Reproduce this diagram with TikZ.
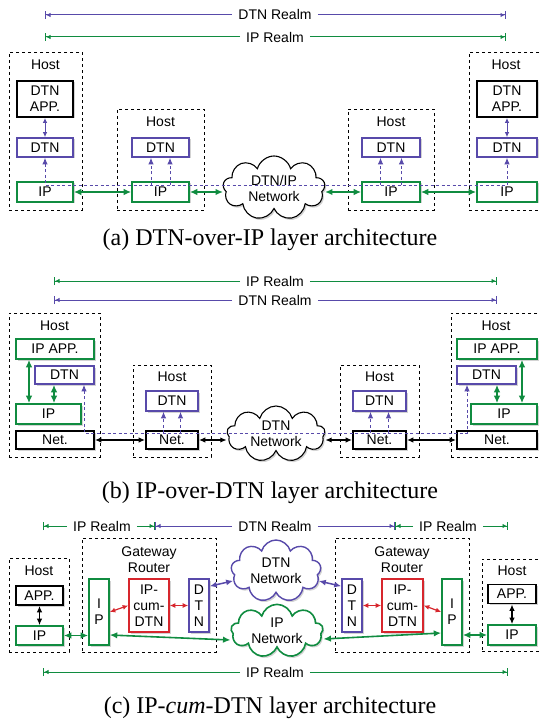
\documentclass[tikz,border=0pt]{standalone}
\usepackage{fontspec}
\setmainfont{Liberation Serif}
\setsansfont{Liberation Sans}
\usepackage{xcolor}
\usepackage{tikz}
\usetikzlibrary{arrows.meta, shapes.symbols, shadows}

\definecolor{dtnpurple}{RGB}{88,74,170}
\definecolor{ipgreen}{RGB}{16,140,64}
\definecolor{cumred}{RGB}{215,38,45}

\begin{document}
\begin{tikzpicture}[x=1pt, y=-1pt,
    every node/.style = {font=\sffamily\fontsize{14}{16}\selectfont},
    hostbox/.style = {draw, dashed, line width=0.7pt, inner sep=0pt},
    layer/.style = {draw, line width=1.6pt, fill=white, inner sep=0pt, align=center,
      drop shadow={shadow xshift=1.5pt, shadow yshift=-1.5pt, opacity=0.35}},
    dtnbox/.style = {layer, draw=dtnpurple},
    ipbox/.style = {layer, draw=ipgreen},
    appbox/.style = {layer, draw=black, line width=1.8pt},
    cumbox/.style = {layer, draw=cumred},
    netcloud/.style = {cloud, cloud puffs=9, cloud ignores aspect, draw, fill=white,
      line width=1.1pt, inner sep=0pt, align=center,
      drop shadow={shadow xshift=1.5pt, shadow yshift=-1.8pt, opacity=0.35}},
    realmtext/.style = {inner xsep=6pt, inner ysep=0pt},
    dtnrealm/.style = {draw=dtnpurple, line width=1pt,
      -{Latex[length=4.5pt,width=4.5pt]Bar[width=8pt]}},
    iprealm/.style = {dtnrealm, draw=ipgreen},
    iplink/.style = {draw=ipgreen, line width=1.6pt,
      {Latex[length=7.5pt,width=6.5pt]}-{Latex[length=7.5pt,width=6.5pt]}},
    netlink/.style = {draw=black, line width=1.3pt,
      {Latex[length=6.5pt,width=5.5pt]}-{Latex[length=6.5pt,width=5.5pt]}},
    dtnlink/.style = {draw=dtnpurple, line width=1pt,
      {Latex[length=5pt,width=4.5pt]}-{Latex[length=5pt,width=4.5pt]}},
    dtnnet/.style = {dtnlink, line width=1.5pt,
      {Latex[length=7pt,width=6pt]}-{Latex[length=7pt,width=6pt]}},
    cumlink/.style = {draw=cumred, line width=1.2pt,
      {Latex[length=5.5pt,width=5pt]}-{Latex[length=5.5pt,width=5pt]}},
    dtnpath/.style = {draw=dtnpurple, line width=1pt, dash pattern=on 3pt off 2.5pt},
    dtnup/.style = {dtnpath, -{Latex[length=6.5pt,width=5.5pt]}},
    dtnboth/.style = {dtnpath, {Latex[length=6.5pt,width=5.5pt]}-{Latex[length=6.5pt,width=5.5pt]}},
    caption/.style = {font=\rmfamily\fontsize{24}{26}\selectfont}]

\useasboundingbox (0,0) rectangle (539,719);

% (a) DTN over IP
\node[realmtext] (dtnrA) at (275,15) {DTN Realm};
\coordinate (dtnrA1) at (45,15);
\coordinate (dtnrA2) at (506,15);
\draw[dtnrealm] (dtnrA.west) -- (dtnrA1);
\draw[dtnrealm] (dtnrA.east) -- (dtnrA2);
\node[realmtext] (iprA) at (275,37) {IP Realm};
\coordinate (iprA1) at (45,37);
\coordinate (iprA2) at (506,37);
\draw[iprealm] (iprA.west) -- (iprA1);
\draw[iprealm] (iprA.east) -- (iprA2);

\node[hostbox, minimum width=73, minimum height=158] (hostA1) at (45.5,131) {};
\node (hA1) at (45.5,65) {Host};
\node[appbox, minimum width=56, minimum height=36] (appA1) at (45,99) {DTN\\APP.};
\node[dtnbox, minimum width=56, minimum height=19] (dtnA1) at (45,147.5) {DTN};
\node[ipbox, minimum width=56, minimum height=20] (ipA1) at (45,192) {IP};

\node[hostbox, minimum width=87, minimum height=101] (hostA2) at (160.5,159.5) {};
\node (hA2) at (160.5,122) {Host};
\node[dtnbox, minimum width=57, minimum height=19] (dtnA2) at (160.5,147.5) {DTN};
\node[ipbox, minimum width=57, minimum height=20] (ipA2) at (160.5,192) {IP};

\node[netcloud, minimum width=102, minimum height=64] (cloudA) at (274,188) {DTN/IP\\Network};

\node[hostbox, minimum width=86, minimum height=101] (hostA3) at (391,159.5) {};
\node (hA3) at (391,122) {Host};
\node[dtnbox, minimum width=58, minimum height=19] (dtnA3) at (391,147.5) {DTN};
\node[ipbox, minimum width=58, minimum height=20] (ipA3) at (391,192) {IP};

\node[hostbox, minimum width=73, minimum height=158] (hostA4) at (505.5,131) {};
\node (hA4) at (506,65) {Host};
\node[appbox, minimum width=60, minimum height=36] (appA4) at (507,99) {DTN\\APP.};
\node[dtnbox, minimum width=60, minimum height=19] (dtnA4) at (507,147.5) {DTN};
\node[ipbox, minimum width=60, minimum height=20] (ipA4) at (507,192) {IP};

\draw[dtnlink] (appA1) -- (dtnA1);
\draw[dtnlink] (appA4) -- (dtnA4);
\draw[iplink] (ipA1) -- (ipA2);
\draw[iplink] (ipA2.east) -- (ipA2.east -| cloudA.west);
\draw[iplink] (ipA3.west -| cloudA.east) -- (ipA3.west);
\draw[iplink] (ipA3) -- (ipA4);
\draw[dtnboth] (dtnA1.south) |- ([yshift=-4pt]ipA2.north) -| (dtnA4.south);
\draw[dtnup] ([xshift=-9.5pt,yshift=-4pt]ipA2.north) -- ([xshift=-9.5pt]dtnA2.south);
\draw[dtnup] ([xshift=9.5pt,yshift=-4pt]ipA2.north) -- ([xshift=9.5pt]dtnA2.south);
\draw[dtnup] ([xshift=-10.5pt,yshift=-4pt]ipA3.north) -- ([xshift=-10.5pt]dtnA3.south);
\draw[dtnup] ([xshift=10.5pt,yshift=-4pt]ipA3.north) -- ([xshift=10.5pt]dtnA3.south);

\node[caption] (capA) at (270,240) {(a) DTN-over-IP layer architecture};

% (b) IP over DTN
\node[realmtext] (iprB) at (275,281) {IP Realm};
\coordinate (iprB1) at (54,281);
\coordinate (iprB2) at (497,281);
\draw[iprealm] (iprB.west) -- (iprB1);
\draw[iprealm] (iprB.east) -- (iprB2);
\node[realmtext] (dtnrB) at (275,300) {DTN Realm};
\coordinate (dtnrB1) at (54,300);
\coordinate (dtnrB2) at (497,300);
\draw[dtnrealm] (dtnrB.west) -- (dtnrB1);
\draw[dtnrealm] (dtnrB.east) -- (dtnrB2);

\node[hostbox, minimum width=91, minimum height=144] (hostB1) at (54.5,385) {};
\node (hB1) at (54.5,326) {Host};
\node[ipbox, minimum width=78, minimum height=20] (ipappB1) at (55,349) {IP APP.};
\node[dtnbox, minimum width=59, minimum height=18] (dtnB1) at (64.5,375) {DTN};
\node[ipbox, minimum width=65, minimum height=20] (ipB1) at (48.5,414) {IP};
\node[appbox, minimum width=78, minimum height=18] (netB1) at (55,440) {Net.};

\node[hostbox, minimum width=78, minimum height=92] (hostB2) at (172,411) {};
\node (hB2) at (172,377) {Host};
\node[dtnbox, minimum width=52, minimum height=20] (dtnB2) at (172,401) {DTN};
\node[appbox, minimum width=52, minimum height=18] (netB2) at (172,440) {Net.};

\node[netcloud, minimum width=98, minimum height=56] (cloudB) at (276,434) {DTN\\Network};

\node[hostbox, minimum width=79, minimum height=92] (hostB3) at (379.5,411) {};
\node (hB3) at (379.5,377) {Host};
\node[dtnbox, minimum width=53, minimum height=20] (dtnB3) at (379.5,401) {DTN};
\node[appbox, minimum width=53, minimum height=18] (netB3) at (379.5,440) {Net.};

\node[hostbox, minimum width=91, minimum height=144] (hostB4) at (496.5,385) {};
\node (hB4) at (496,326) {Host};
\node[ipbox, minimum width=80, minimum height=20] (ipappB4) at (497,349) {IP APP.};
\node[dtnbox, minimum width=59, minimum height=18] (dtnB4) at (486.5,375) {DTN};
\node[ipbox, minimum width=66, minimum height=20] (ipB4) at (504,414) {IP};
\node[appbox, minimum width=80, minimum height=18] (netB4) at (497,440) {Net.};

\draw[iplink] ([xshift=-26pt]ipappB1.south) -- ([xshift=-26pt]ipappB1.south |- ipB1.north);
\draw[iplink] ([xshift=-10.5pt]dtnB1.south) -- ([xshift=-10.5pt]dtnB1.south |- ipB1.north);
\draw[iplink] ([xshift=10.5pt]dtnB4.south) -- ([xshift=10.5pt]dtnB4.south |- ipB4.north);
\draw[iplink] ([xshift=25pt]ipappB4.south) -- ([xshift=25pt]ipappB4.south |- ipB4.north);
\draw[netlink] (netB1) -- (netB2);
\draw[netlink] (netB2.east) -- (netB2.east -| cloudB.west);
\draw[netlink] (netB3.west -| cloudB.east) -- (netB3.west);
\draw[netlink] (netB3) -- (netB4);
\draw[dtnboth] ([xshift=19.5pt]dtnB1.south) |- ([yshift=-3pt]netB2.north) -| ([xshift=-19.5pt]dtnB4.south);
\draw[dtnup] ([xshift=-8.5pt,yshift=-3pt]netB2.north) -- ([xshift=-8.5pt]dtnB2.south);
\draw[dtnup] ([xshift=8.5pt,yshift=-3pt]netB2.north) -- ([xshift=8.5pt]dtnB2.south);
\draw[dtnup] ([xshift=-9pt,yshift=-3pt]netB3.north) -- ([xshift=-9pt]dtnB3.south);
\draw[dtnup] ([xshift=9pt,yshift=-3pt]netB3.north) -- ([xshift=9pt]dtnB3.south);

\node[caption] (capB) at (270,493) {(b) IP-over-DTN layer architecture};

% (c) IP-cum-DTN
\node[realmtext] (iprC1) at (102,526) {IP Realm};
\coordinate (iprC1a) at (43,526);
\coordinate (iprC1b) at (155,526);
\draw[iprealm] (iprC1.west) -- (iprC1a);
\draw[iprealm] (iprC1.east) -- (iprC1b);
\node[realmtext] (dtnrC) at (275,526) {DTN Realm};
\coordinate (dtnrCa) at (155,526);
\coordinate (dtnrCb) at (395,526);
\draw[dtnrealm] (dtnrC.west) -- (dtnrCa);
\draw[dtnrealm] (dtnrC.east) -- (dtnrCb);
\node[realmtext] (iprC2) at (448,526) {IP Realm};
\coordinate (iprC2a) at (395,526);
\coordinate (iprC2b) at (508,526);
\draw[iprealm] (iprC2.west) -- (iprC2a);
\draw[iprealm] (iprC2.east) -- (iprC2b);
\node[realmtext] (iprC3) at (275,672) {IP Realm};
\coordinate (iprC3a) at (43,672);
\coordinate (iprC3b) at (508,672);
\draw[iprealm] (iprC3.west) -- (iprC3a);
\draw[iprealm] (iprC3.east) -- (iprC3b);

\node[hostbox, minimum width=60, minimum height=94] (hostC1) at (39,605) {};
\node (hC1) at (39,571) {Host};
\node[appbox, minimum width=47, minimum height=19] (appC1) at (39.5,595.5) {APP.};
\node[ipbox, minimum width=47, minimum height=19] (ipC1) at (39.5,635.5) {IP};

\node[hostbox, minimum width=134, minimum height=114] (gwC1) at (149,595) {};
\node[align=center] (gC1) at (149,559.5) {Gateway\\Router};
\node[ipbox, minimum width=20, minimum height=66] (ipC2) at (99,612) {I\\P};
\node[cumbox, minimum width=40, minimum height=53] (cumC1) at (149,605.5) {IP-\\cum-\\DTN};
\node[dtnbox, minimum width=20, minimum height=53] (dtnC1) at (199,605.5) {D\\T\\N};

\node[netcloud, draw=dtnpurple, line width=1.4pt, minimum width=90, minimum height=62] (cloudC1) at (276,571) {DTN\\Network};
\node[netcloud, draw=ipgreen, line width=1.6pt, minimum width=92, minimum height=50] (cloudC2) at (277,631) {IP\\Network};

\node[hostbox, minimum width=134, minimum height=114] (gwC2) at (402,595) {};
\node[align=center] (gC2) at (402,559.5) {Gateway\\Router};
\node[dtnbox, minimum width=20, minimum height=53] (dtnC2) at (352,605.5) {D\\T\\N};
\node[cumbox, minimum width=41, minimum height=53] (cumC2) at (402.5,605.5) {IP-\\cum-\\DTN};
\node[ipbox, minimum width=20, minimum height=66] (ipC3) at (452,612) {I\\P};

\node[hostbox, minimum width=60, minimum height=92] (hostC4) at (512,605) {};
\node (hC4) at (512,571) {Host};
\node[appbox, minimum width=48, minimum height=19] (appC4) at (512,594) {APP.};
\node[ipbox, minimum width=48, minimum height=20] (ipC4) at (512,635) {IP};

\draw[netlink] (appC1) -- (ipC1);
\draw[iplink] (ipC1) -- (ipC1 -| ipC2.west);
\draw[cumlink] (ipC2.east) -- (cumC1.west);
\draw[cumlink] (cumC1) -- (dtnC1);
\draw[dtnnet] ([yshift=-8pt]dtnC1.north east) -- (cloudC1);
\draw[iplink] ([yshift=-23pt]ipC2.east) -- ([yshift=-9pt]cloudC2.west);
\draw[dtnnet] (cloudC1) -- ([yshift=-8pt]dtnC2.north west);
\draw[cumlink] (dtnC2) -- (cumC2);
\draw[cumlink] (cumC2.east) -- (ipC3.west);
\draw[iplink] ([yshift=-8pt]cloudC2.east) -- ([yshift=-21pt]ipC3.west);
\draw[iplink] (ipC3.east |- ipC4) -- (ipC4);
\draw[netlink] (appC4) -- (ipC4);

\node[caption] (capC) at (270,708) {(c) IP-\textit{cum}-DTN layer architecture};
\end{tikzpicture}
\end{document}
